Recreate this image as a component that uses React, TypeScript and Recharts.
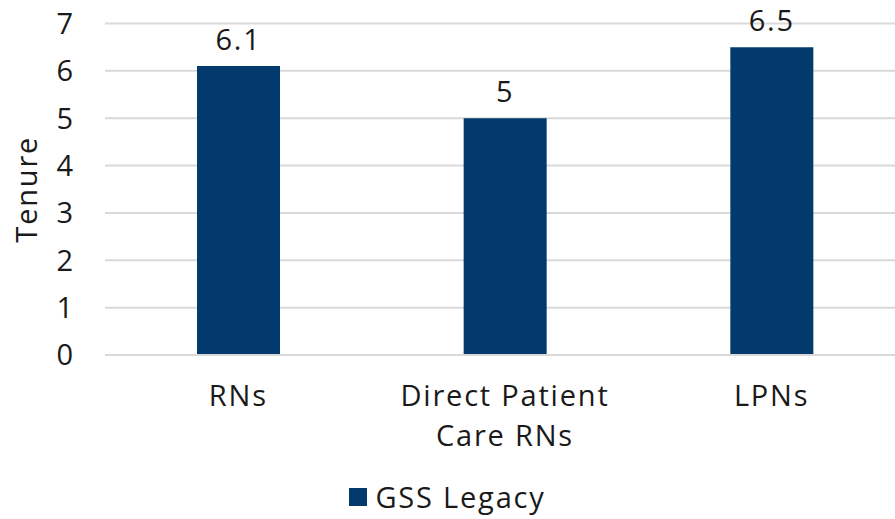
import React from "react";
import { BarChart, Bar, XAxis, YAxis, CartesianGrid, Legend, LabelList, Label } from "recharts";

const categories = ["RNs", "Direct Patient Care RNs", "LPNs"];
const categoryLines: Record<string, string[]> = {
  "RNs": ["RNs"],
  "Direct Patient Care RNs": ["Direct Patient", "Care RNs"],
  "LPNs": ["LPNs"],
};
const gssLegacy = [6.1, 5, 6.5];
const yTicks = [0, 1, 2, 3, 4, 5, 6, 7];
const seriesName = "GSS Legacy";
const yTitle = "Tenure";

const data = categories.map((c, i) => ({ category: c, gss: gssLegacy[i] }));

const FONT = "'Open Sans', 'Noto Sans', sans-serif";
const FS = 29;
const LS = 1.8;
const TEXT = "#1a1a1a";
const BAR = "#023A6E";

const XTick = (props: any) => {
  const { x, y, payload } = props;
  const lines = categoryLines[payload.value] || [payload.value];
  return (
    <g>
      {lines.map((l, i) => (
        <text key={i} x={x} y={y + 43 + i * 40} textAnchor="middle" fontSize={FS} fontFamily={FONT} fill={TEXT} letterSpacing={LS}>
          {l}
        </text>
      ))}
    </g>
  );
};

const LegendContent = () => (
  <div style={{ display: "flex", justifyContent: "center", alignItems: "center", fontFamily: FONT, fontSize: FS, color: TEXT, letterSpacing: LS, lineHeight: "32px" }}>
    <span style={{ display: "inline-block", width: 18, height: 18, background: BAR, marginRight: 8, marginLeft: -10 }} />
    <span>{seriesName}</span>
  </div>
);

export default function App() {
  return (
    <div style={{ position: "absolute", left: 0, top: 0, width: 895, height: 519, overflow: "hidden", background: "#fff" }}>
      <BarChart width={905} height={519} data={data} margin={{ top: 23.5, right: 0, left: 0, bottom: 0 }}>
        <CartesianGrid vertical={false} stroke="#D9D9D9" strokeWidth={2} />
        <XAxis
          dataKey="category"
          axisLine={{ stroke: "#D9D9D9", strokeWidth: 2 }}
          tickLine={false}
          tick={<XTick />}
          height={126}
          interval={0}
        />
        <YAxis
          domain={[0, 7]}
          ticks={yTicks}
          width={105}
          axisLine={false}
          tickLine={false}
          tickMargin={26}
          tick={{ fontSize: FS, fontFamily: FONT, fill: TEXT }}
        >
          <Label value={yTitle} angle={-90} position="insideLeft" offset={27} style={{ textAnchor: "middle", fontSize: FS, fontFamily: FONT, fill: TEXT, letterSpacing: LS }} />
        </YAxis>
        <Legend verticalAlign="bottom" height={38} content={<LegendContent />} />
        <Bar dataKey="gss" name={seriesName} fill={BAR} barSize={83} isAnimationActive={false}>
          <LabelList dataKey="gss" position="top" offset={16} style={{ fontSize: FS, fontFamily: FONT, fill: TEXT, letterSpacing: LS }} />
        </Bar>
      </BarChart>
    </div>
  );
}
